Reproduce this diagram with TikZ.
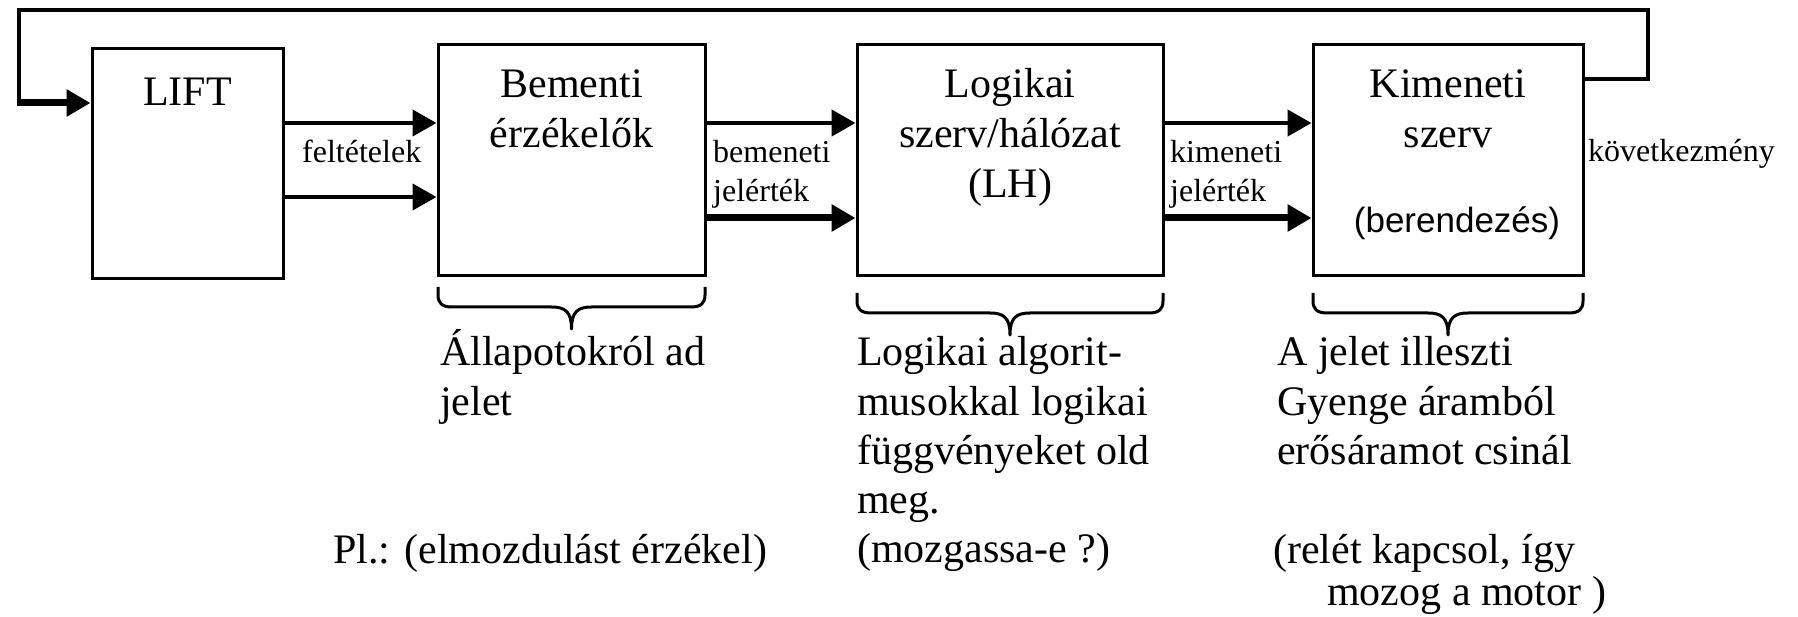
\documentclass[tikz,border=0pt]{standalone}
\usepackage{fontspec}
\setmainfont{Liberation Serif}
\newfontfamily\arialf{Liberation Sans}
\usetikzlibrary{arrows.meta}
\newcommand{\hbrace}[3]{%
  \pgfmathsetmacro\xm{(#1+#2)/2}%
  \draw[brc] (#1,#3) -- (#1,{#3+8}) .. controls (#1,{#3+16}) and ({#1+4},{#3+20}) .. ({#1+14},{#3+20})
    -- ({\xm-20},{#3+20}) .. controls ({\xm-6},{#3+20}) and (\xm,{#3+25}) .. (\xm,{#3+42})
    .. controls (\xm,{#3+25}) and ({\xm+6},{#3+20}) .. ({\xm+20},{#3+20})
    -- ({#2-14},{#3+20}) .. controls ({#2-4},{#3+20}) and (#2,{#3+16}) .. (#2,{#3+8}) -- (#2,#3);%
}
\begin{document}
\begin{tikzpicture}[x=1pt,y=-1pt,
  blk/.style={draw,line width=3pt,inner sep=0pt,line join=miter},
  big/.style={font=\fontsize{42}{49}\selectfont,inner sep=0pt,anchor=base},
  bigl/.style={font=\fontsize{42}{49}\selectfont,inner sep=0pt,anchor=base west},
  small/.style={font=\fontsize{32}{39}\selectfont,inner sep=0pt,anchor=base west},
  arr/.style={line width=4.5pt,-{Triangle[length=24pt,width=26pt]}},
  thickarr/.style={line width=7pt,-{Triangle[length=24pt,width=26pt]}},
  fbline/.style={line width=4.5pt,line join=miter},
  brc/.style={line width=3pt,line join=round}]
\useasboundingbox (0,0) rectangle (1798,617);

% boxes
\node[blk,minimum width=191pt,minimum height=230pt] (lift) at (187.5,164) {};
\node[blk,minimum width=267pt,minimum height=231pt] (bem) at (571.5,160.5) {};
\node[blk,minimum width=306pt,minimum height=231pt] (log) at (1010,160.5) {};
\node[blk,minimum width=270pt,minimum height=231pt] (kim) at (1448,160.5) {};

% box labels
\node[big] (t1) at (187.5,106) {LIFT};
\node[big] (t2a) at (571.5,98) {Bementi};
\node[big] (t2b) at (571.5,148) {érzékelők};
\node[big] (t3a) at (1010,98) {Logikai};
\node[big] (t3b) at (1010,148) {szerv/hálózat};
\node[big] (t3c) at (1010,198) {(LH)};
\node[big] (t4a) at (1448,98) {Kimeneti};
\node[big] (t4b) at (1448,148) {szerv};
\node[inner sep=0pt,anchor=base,font=\arialf\fontsize{35}{40}\selectfont] (t4c) at (1457,233) {(berendezés)};

% rows
\coordinate (r1) at (0,123);
\coordinate (r2) at (0,197);
\coordinate (r3) at (0,218);
\coordinate (rk) at (0,79);
\coordinate (fb) at (1648,10);
\coordinate (fl) at (19,103);

% connectors
\draw[arr] (lift.east |- r1) -- (bem.west |- r1);
\draw[arr] (lift.east |- r2) -- (bem.west |- r2);
\draw[arr] (bem.east |- r1) -- (log.west |- r1);
\draw[thickarr] (bem.east |- r3) -- (log.west |- r3);
\draw[arr] (log.east |- r1) -- (kim.west |- r1);
\draw[thickarr] (log.east |- r3) -- (kim.west |- r3);
\draw[fbline] (kim.east |- rk) -| (fb) -| (fl);
\draw[thickarr] ([xshift=-2pt]fl) -- (lift.west |- fl);

% connector labels
\node[small] (l1) at (302,163) {feltételek};
\node[small] (l2a) at (713,163) {bemeneti};
\node[small] (l2b) at (713,202) {jelérték};
\node[small] (l3a) at (1170,163) {kimeneti};
\node[small] (l3b) at (1170,202) {jelérték};
\node[small] (l4) at (1588,162) {következmény};

% braces
\hbrace{438}{705}{287}
\hbrace{857}{1163}{293}
\hbrace{1313}{1583}{293}

% descriptions
\node[bigl] (d1a) at (440,366) {Állapotokról ad};
\node[bigl] (d1b) at (440,415) {jelet};
\node[bigl] (d1c) at (333,563) {Pl.: (elmozdulást érzékel)};
\node[bigl] (d2a) at (857,366) {Logikai algorit-};
\node[bigl] (d2b) at (857,415) {musokkal logikai};
\node[bigl] (d2c) at (857,464) {függvényeket old};
\node[bigl] (d2d) at (857,513) {meg.};
\node[bigl] (d2e) at (857,562) {(mozgassa-e ?)};
\node[bigl] (d3a) at (1277,366) {A jelet illeszti};
\node[bigl] (d3b) at (1277,415) {Gyenge áramból};
\node[bigl] (d3c) at (1277,464) {erősáramot csinál};
\node[bigl] (d3d) at (1273,563) {(relét kapcsol, így};
\node[bigl] (d3e) at (1327,605) {mozog a motor )};
\end{tikzpicture}
\end{document}
